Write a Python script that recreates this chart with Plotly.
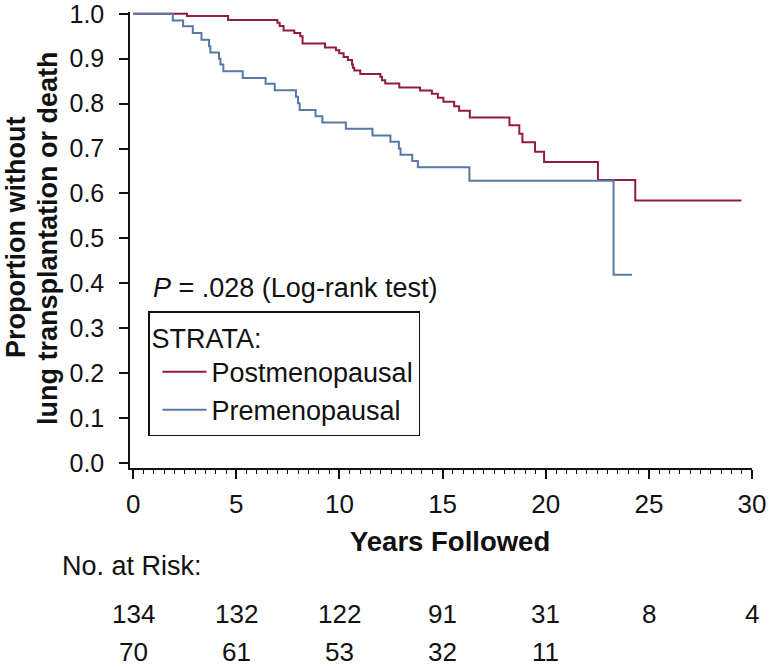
import plotly.graph_objects as go

# ---- data ----
post_years = [0, 2.61, 4.60, 6.99, 7.10, 7.29, 7.81, 8.10, 8.21, 9.30, 9.83, 9.99, 10.20,
              10.41, 10.61, 10.65, 10.72, 11.01, 11.98, 12.06, 12.22, 12.90, 13.91, 14.48,
              14.77, 15.04, 15.56, 15.80, 16.32, 18.24, 18.72, 18.87, 19.48, 19.92, 22.53,
              24.34, 29.49]
post_surv = [1.0, 0.995, 0.986, 0.980, 0.973, 0.963, 0.957, 0.950, 0.934, 0.925, 0.919, 0.912,
             0.904, 0.897, 0.887, 0.880, 0.874, 0.866, 0.860, 0.852, 0.845, 0.836, 0.829,
             0.822, 0.813, 0.804, 0.794, 0.784, 0.769, 0.752, 0.733, 0.714, 0.693, 0.670,
             0.630, 0.584, 0.584]

pre_years = [0, 1.92, 2.42, 2.89, 3.31, 3.68, 3.74, 4.16, 4.23, 4.37, 5.31, 6.42, 6.86, 7.89,
             7.99, 8.07, 8.84, 9.17, 10.31, 11.60, 12.47, 12.88, 12.96, 13.53, 13.80, 16.30,
             23.29, 24.18]
pre_surv = [1.0, 0.985, 0.972, 0.957, 0.942, 0.928, 0.914, 0.900, 0.887, 0.872, 0.857, 0.844,
            0.830, 0.815, 0.801, 0.786, 0.772, 0.758, 0.744, 0.729, 0.715, 0.700, 0.686,
            0.672, 0.658, 0.628, 0.419, 0.419]

risk_times = [0, 5, 10, 15, 20, 25, 30]
risk_post = [134, 132, 122, 91, 31, 8, 4]
risk_pre = [70, 61, 53, 32, 11]

y_ticks = [0.0, 0.1, 0.2, 0.3, 0.4, 0.5, 0.6, 0.7, 0.8, 0.9, 1.0]

RED = "#921B42"
BLUE = "#5878A6"
INK = "#111111"
FONT = "Liberation Sans, Arial, Helvetica, sans-serif"

fig = go.Figure()
fig.add_trace(go.Scatter(x=post_years, y=post_surv, mode="lines", line_shape="hv",
                         name="Postmenopausal", line=dict(color=RED, width=2)))
fig.add_trace(go.Scatter(x=pre_years, y=pre_surv, mode="lines", line_shape="hv",
                         name="Premenopausal", line=dict(color=BLUE, width=2)))

L, R, T, B = 130, 19, 12, 200
W, H = 771, 668
PW, PH = W - L - R, H - B - T


def px_x(px):
    return (px - L) / PW


def px_y(py):
    return (H - B - py) / PH


fig.update_layout(
    template="none",
    width=W, height=H,
    margin=dict(l=L, r=R, t=T, b=B, pad=0, autoexpand=False),
    paper_bgcolor="white", plot_bgcolor="white",
    font=dict(family=FONT, size=26, color=INK),
    showlegend=True,
    legend=dict(
        title=dict(text="STRATA:", font=dict(size=27, family=FONT, color=INK)),
        font=dict(size=27, family=FONT, color=INK),
        x=px_x(148), y=px_y(311),
        xanchor="left", yanchor="top",
        bordercolor=INK, borderwidth=1.5, bgcolor="rgba(0,0,0,0)",
        itemwidth=44, tracegroupgap=0, indentation=8,
    ),
    xaxis=dict(
        automargin=False,
        range=[-0.155, 30], tickmode="array", tickvals=risk_times,
        ticktext=[str(v) for v in risk_times],
        ticks="outside", ticklen=9, tickwidth=1.5, tickcolor=INK,
        minor=dict(dtick=0.5, ticks="outside", ticklen=4, tickwidth=1, tickcolor=INK),
        showline=True, linecolor=INK, linewidth=1.5,
        showgrid=False, zeroline=False,
        tickfont=dict(size=26, family=FONT, color=INK),
        ticklabelstandoff=3, ticklabeloverflow="allow",
    ),
    yaxis=dict(
        automargin=False,
        range=[-0.0115, 1.004], tickmode="array", tickvals=y_ticks,
        ticktext=[f"{v:.1f}" for v in y_ticks],
        ticks="outside", ticklen=9, tickwidth=1.5, tickcolor=INK,
        showline=True, linecolor=INK, linewidth=1.5,
        showgrid=False, zeroline=False,
        tickfont=dict(size=25, family=FONT, color=INK),
        ticklabelstandoff=10, ticklabeloverflow="allow",
    ),
)

ann = []
# y axis title, two lines
ann.append(dict(text="<b>Proportion without</b>", xref="paper", yref="paper",
                x=px_x(16), y=px_y(238), textangle=-90, showarrow=False,
                font=dict(size=27, family=FONT, color=INK),
                xanchor="center", yanchor="middle"))
ann.append(dict(text="<b>lung transplantation or death</b>", xref="paper", yref="paper",
                x=px_x(48), y=px_y(238), textangle=-90, showarrow=False,
                font=dict(size=27, family=FONT, color=INK),
                xanchor="center", yanchor="middle"))
# x axis title
ann.append(dict(text="<b>Years Followed</b>", xref="paper", yref="paper",
                x=px_x(450), y=px_y(541), showarrow=False,
                font=dict(size=27.5, family=FONT, color=INK),
                xanchor="center", yanchor="middle"))
# p-value
ann.append(dict(text="<i>P</i> = .028 (Log-rank test)", xref="paper", yref="paper",
                x=px_x(151), y=px_y(288), showarrow=False,
                font=dict(size=27, family=FONT, color=INK),
                xanchor="left", yanchor="middle"))
# number at risk
ann.append(dict(text="No. at Risk:", xref="paper", yref="paper",
                x=px_x(60), y=px_y(566), showarrow=False,
                font=dict(size=27, family=FONT, color=INK),
                xanchor="left", yanchor="middle"))
for t, n in zip(risk_times, risk_post):
    ann.append(dict(text=str(n), xref="x", yref="paper", x=t, y=px_y(614),
                    showarrow=False, font=dict(size=26, family=FONT, color=INK),
                    xanchor="center", yanchor="middle"))
for t, n in zip(risk_times, risk_pre):
    ann.append(dict(text=str(n), xref="x", yref="paper", x=t, y=px_y(652),
                    showarrow=False, font=dict(size=26, family=FONT, color=INK),
                    xanchor="center", yanchor="middle"))
fig.update_layout(annotations=ann)

fig.write_html("out.html", config={"displayModeBar": False},
               post_script="document.body.style.margin='0';document.body.style.padding='0';")
